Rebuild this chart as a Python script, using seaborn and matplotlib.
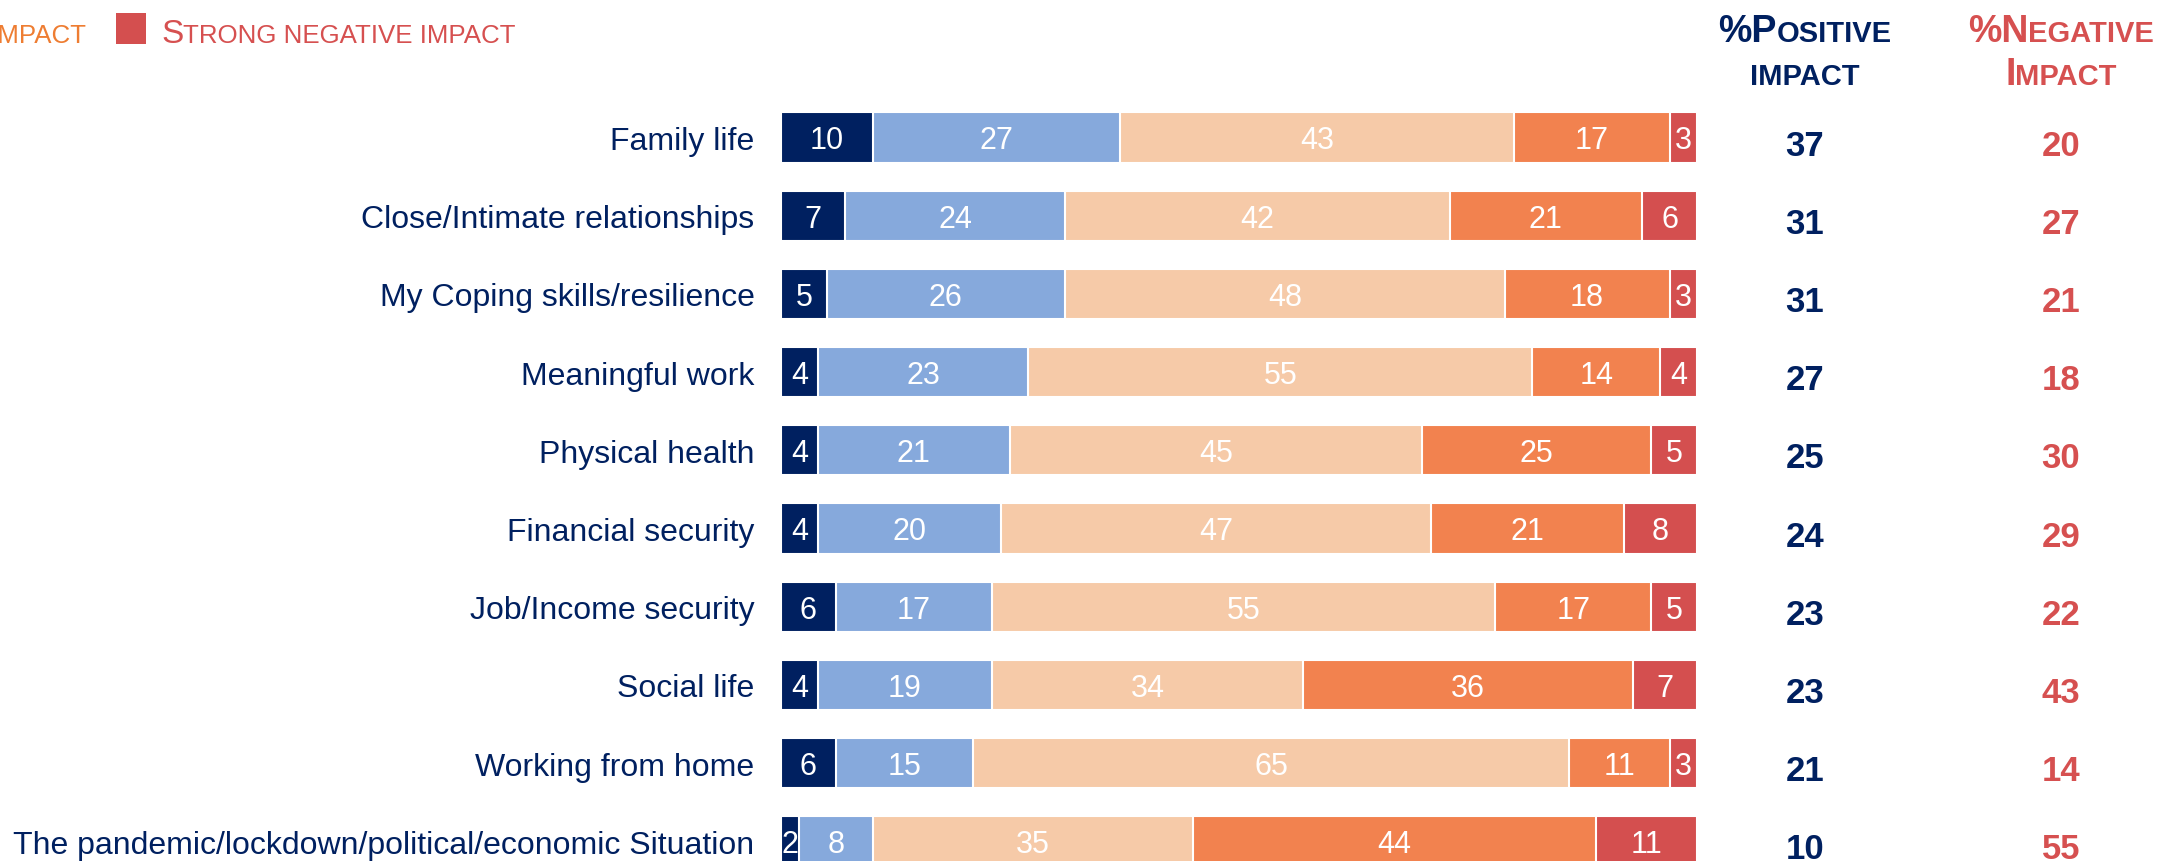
import matplotlib
matplotlib.use("Agg")
import matplotlib.pyplot as plt
import matplotlib.transforms as mtransforms
from matplotlib.patches import Rectangle
import numpy as np
import pandas as pd
import seaborn as sns

# ---- data -------------------------------------------------------------
categories = [
    "Family life",
    "Close/Intimate relationships",
    "My Coping skills/resilience",
    "Meaningful work",
    "Physical health",
    "Financial security",
    "Job/Income security",
    "Social life",
    "Working from home",
    "The pandemic/lockdown/political/economic Situation",
]
strong_positive = [10, 7, 5, 4, 4, 4, 6, 4, 6, 2]
some_positive = [27, 24, 26, 23, 21, 20, 17, 19, 15, 8]
no_impact = [43, 42, 48, 55, 45, 47, 55, 34, 65, 35]
some_negative = [17, 21, 18, 14, 25, 21, 17, 36, 11, 44]
strong_negative = [3, 6, 3, 4, 5, 8, 5, 7, 3, 11]

series_names = ["Strong positive impact", "Some positive impact", "No impact",
                "Some negative impact", "Strong negative impact"]
series_colors = ["#002060", "#86A9DC", "#F6CAA8", "#F2824F", "#D44F4F"]

NAVY = "#002060"
RED = "#D65050"
ORANGE_TEXT = "#EE7D32"

# ---- figure setup -----------------------------------------------------
W, H = 2164, 862
sns.set_theme(style="white")
plt.rcParams["font.family"] = ["Liberation Sans", "DejaVu Sans"]

fig = plt.figure(figsize=(W / 100, H / 100), dpi=100)
fig.patch.set_facecolor("white")

bar_left_px, bar_right_px = 781, 1697
ax = fig.add_axes([bar_left_px / W, 0, (bar_right_px - bar_left_px) / W, 1])

values = np.array([strong_positive, some_positive, no_impact,
                   some_negative, strong_negative])
cumulative = values.cumsum(axis=0)

df = pd.DataFrame({"category": categories})
for k in range(len(series_names)):
    df[f"cum{k}"] = cumulative[k]

# stacked bars: draw cumulative totals from the outermost segment inwards
for k in reversed(range(len(series_names))):
    sns.barplot(data=df, x=f"cum{k}", y="category", orient="h",
                color=series_colors[k], saturation=1, width=0.64,
                edgecolor="white", linewidth=1.5, errorbar=None, ax=ax)

# segment value labels
label_size = 22
for i in range(len(categories)):
    for k in range(len(series_names)):
        v = values[k, i]
        center = cumulative[k, i] - v / 2
        ax.annotate(str(v), xy=(center, i), xytext=(0, -0.358 * label_size),
                    textcoords="offset points", ha="center", va="baseline",
                    fontsize=label_size, color="white")

# axes layout
row_px, first_row_px = 78.2, 138.5
ax.set_xlim(0, 100)
ax.set_ylim((H - first_row_px) / row_px, -first_row_px / row_px)
ax.set_xlabel("")
ax.set_ylabel("")
ax.set_xticks([])
for s in ax.spines.values():
    s.set_visible(False)
ax.tick_params(axis="y", length=0, pad=19, labelsize=23, labelcolor=NAVY)

# positive / negative totals columns
pos_total = values[0] + values[1]
neg_total = values[3] + values[4]
blend = mtransforms.blended_transform_factory(fig.transFigure, ax.transData)
pos_x, neg_x = 1805, 2061
for i in range(len(categories)):
    ax.annotate(str(pos_total[i]), xy=(pos_x / W, i), xycoords=blend,
                xytext=(0, -12.3), textcoords="offset points", ha="center",
                va="baseline", fontsize=25, fontweight="bold", color=NAVY,
                annotation_clip=False)
    ax.annotate(str(neg_total[i]), xy=(neg_x / W, i), xycoords=blend,
                xytext=(0, -12.3), textcoords="offset points", ha="center",
                va="baseline", fontsize=25, fontweight="bold", color=RED,
                annotation_clip=False)


# ---- small-caps text helper -------------------------------------------
def small_caps(pieces, x_px, baseline_px, ha, color, weight="normal"):
    renderer = fig.canvas.get_renderer()
    texts, widths = [], []
    for s, size in pieces:
        t = fig.text(0, 0, s, fontsize=size, color=color, fontweight=weight,
                     ha="left", va="baseline")
        widths.append(t.get_window_extent(renderer).width)
        texts.append(t)
    total = sum(widths)
    if ha == "center":
        cur = x_px - total / 2
    elif ha == "right":
        cur = x_px - total
    else:
        cur = x_px
    for t, w in zip(texts, widths):
        t.set_position((cur / W, 1 - baseline_px / H))
        cur += w


# column headers
big, small = 27, 21
small_caps([("%P", big), ("OSITIVE", small)], pos_x, 42, "center", NAVY, "bold")
small_caps([("IMPACT", small)], pos_x, 85, "center", NAVY, "bold")
small_caps([("%N", big), ("EGATIVE", small)], neg_x, 42, "center", RED, "bold")
small_caps([("I", big), ("MPACT", small)], neg_x, 85, "center", RED, "bold")

# legend row
leg_big, leg_small = 24, 18.6
small_caps([("S", leg_big), ("OME NEGATIVE IMPACT", leg_small)], 86, 43,
           "right", ORANGE_TEXT)
fig.add_artist(Rectangle((116 / W, 1 - 45 / H), 30 / W, 31 / H,
                         transform=fig.transFigure, color=series_colors[4],
                         linewidth=0))
small_caps([("S", leg_big), ("TRONG NEGATIVE IMPACT", leg_small)], 161, 43,
           "left", RED)

fig.savefig("out.png", dpi=100)
